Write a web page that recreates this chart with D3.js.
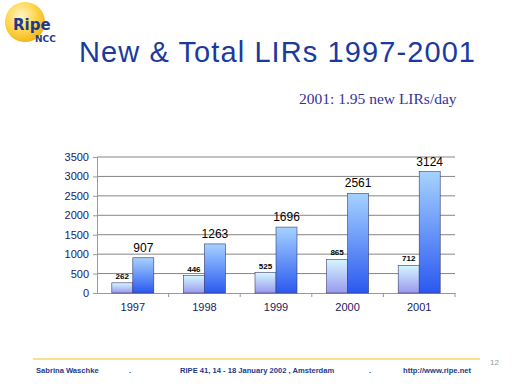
<!DOCTYPE html>
<html>
<head>
<meta charset="utf-8">
<script src="https://cdn.jsdelivr.net/npm/d3@7"></script>
<style>
  body { margin: 0; background: #fff; }
  svg { display: block; }
</style>
</head>
<body>
<div id="chart"></div>
<script>
const years = ["1997", "1998", "1999", "2000", "2001"];
const new_lirs = [262, 446, 525, 865, 712];
const total_lirs = [907, 1263, 1696, 2561, 3124];
const y_ticks = [0, 500, 1000, 1500, 2000, 2500, 3000, 3500];

const width = 512, height = 384;
const plot = { left: 97, right: 455, top: 157, bottom: 293 };

const svg = d3.select('#chart')
  .append('svg')
    .attr('width', width)
    .attr('height', height);

const defs = svg.append('defs');
const grad = (id, top, bottom) => {
  const g = defs.append('linearGradient')
    .attr('id', id)
    .attr('x1', 0).attr('y1', 0).attr('x2', 0).attr('y2', 1);
  g.append('stop').attr('offset', '0%').attr('stop-color', top);
  g.append('stop').attr('offset', '100%').attr('stop-color', bottom);
};
grad('g-new', '#d4f6ff', '#9a98ee');
grad('g-total', '#a6d2ff', '#2a58f0');
const logo = defs.append('radialGradient')
  .attr('id', 'g-logo').attr('cx', '40%').attr('cy', '35%').attr('r', '65%');
logo.append('stop').attr('offset', '0%').attr('stop-color', '#fff6c8');
logo.append('stop').attr('offset', '60%').attr('stop-color', '#ffd54a');
logo.append('stop').attr('offset', '100%').attr('stop-color', '#f0b820');

// Logo
svg.append('circle')
  .attr('cx', 25).attr('cy', 22).attr('r', 20)
  .attr('fill', 'url(#g-logo)');
svg.append('text')
  .attr('x', 13).attr('y', 30)
  .attr('font-family', 'Verdana, DejaVu Sans, sans-serif')
  .attr('font-weight', 'bold')
  .attr('font-size', 15)
  .attr('fill', '#1d3a8c')
  .text('Ripe');
svg.append('text')
  .attr('x', 35).attr('y', 42)
  .attr('font-family', 'Verdana, DejaVu Sans, sans-serif')
  .attr('font-weight', 'bold')
  .attr('font-size', 9)
  .attr('fill', '#1d3a8c')
  .text('NCC');

// Title
svg.append('text')
  .attr('x', 79).attr('y', 62)
  .attr('font-family', 'Liberation Sans, Arial, sans-serif')
  .attr('font-size', 29)
  .attr('fill', '#1a3a9e')
  .attr('textLength', 396)
  .text('New & Total LIRs 1997-2001');

svg.append('text')
  .attr('x', 299).attr('y', 104)
  .attr('font-family', 'Liberation Serif, Times New Roman, serif')
  .attr('font-size', 15.5)
  .attr('fill', '#33339a')
  .text('2001: 1.95 new LIRs/day');

// Scales
const x = d3.scaleBand()
  .domain(years)
  .range([plot.left, plot.right]);
const y = d3.scaleLinear()
  .domain([0, 3500])
  .range([plot.bottom, plot.top]);
const bar_w = 21;

// Gridlines
svg.append('g')
  .selectAll('line')
  .data(y_ticks.filter(d => d > 0))
  .join('line')
    .attr('x1', plot.left).attr('x2', plot.right)
    .attr('y1', d => y(d)).attr('y2', d => y(d))
    .attr('stroke', '#666')
    .attr('stroke-width', 0.8);

// Y axis
const y_axis = svg.append('g')
  .attr('transform', `translate(${plot.left},0)`)
  .call(d3.axisLeft(y).tickValues(y_ticks).tickFormat(d3.format('d')).tickSize(4).tickPadding(4));
y_axis.select('.domain').attr('stroke', '#999');
y_axis.selectAll('.tick line').attr('stroke', '#999');
y_axis.selectAll('text')
  .attr('font-family', 'Liberation Sans, Arial, sans-serif')
  .attr('font-size', 11)
  .attr('fill', '#1a1a66');

// X axis
const x_axis = svg.append('g')
  .attr('transform', `translate(0,${plot.bottom})`)
  .call(d3.axisBottom(x).tickSize(0).tickPadding(10));
x_axis.select('.domain').attr('stroke', '#999');
x_axis.selectAll('text')
  .attr('font-family', 'Liberation Sans, Arial, sans-serif')
  .attr('font-size', 11)
  .attr('fill', '#1a1a66');
svg.append('g')
  .selectAll('line')
  .data(years.map(d => x(d) + x.bandwidth()))
  .join('line')
    .attr('x1', d => d).attr('x2', d => d)
    .attr('y1', plot.bottom).attr('y2', plot.bottom + 4)
    .attr('stroke', '#999');

// Bars
const rows = years.map((yr, i) => ({ year: yr, n: new_lirs[i], t: total_lirs[i] }));
const cx = d => x(d.year) + x.bandwidth() / 2;

svg.append('g')
  .selectAll('rect')
  .data(rows)
  .join('rect')
    .attr('x', d => cx(d) - bar_w)
    .attr('y', d => y(d.n))
    .attr('width', bar_w)
    .attr('height', d => y(0) - y(d.n))
    .attr('fill', 'url(#g-new)')
    .attr('stroke', '#3a3a6a')
    .attr('stroke-width', 0.6);

svg.append('g')
  .selectAll('rect')
  .data(rows)
  .join('rect')
    .attr('x', d => cx(d))
    .attr('y', d => y(d.t))
    .attr('width', bar_w)
    .attr('height', d => y(0) - y(d.t))
    .attr('fill', 'url(#g-total)')
    .attr('stroke', '#3a3a6a')
    .attr('stroke-width', 0.6);

// Labels
svg.append('g')
  .selectAll('text')
  .data(rows)
  .join('text')
    .attr('x', d => cx(d) - bar_w / 2)
    .attr('y', d => y(d.n) - 4)
    .attr('text-anchor', 'middle')
    .attr('font-family', 'Liberation Sans, Arial, sans-serif')
    .attr('font-weight', 'bold')
    .attr('font-size', 8)
    .attr('fill', '#000')
    .text(d => d.n);

svg.append('g')
  .selectAll('text')
  .data(rows)
  .join('text')
    .attr('x', d => cx(d) + bar_w / 2)
    .attr('y', d => y(d.t) - 6)
    .attr('text-anchor', 'middle')
    .attr('font-family', 'Liberation Sans, Arial, sans-serif')
    .attr('font-size', 12)
    .attr('fill', '#000')
    .text(d => d.t);

// Footer
svg.append('line')
  .attr('x1', 33).attr('x2', 480)
  .attr('y1', 359).attr('y2', 359)
  .attr('stroke', '#f2c418')
  .attr('stroke-width', 1);
svg.append('text')
  .attr('x', 490).attr('y', 365)
  .attr('font-family', 'Liberation Sans, Arial, sans-serif')
  .attr('font-size', 8)
  .attr('fill', '#999')
  .text('12');

const footer = [
  { x: 36, text: 'Sabrina Waschke' },
  { x: 129, text: '.' },
  { x: 180, text: 'RIPE 41, 14 - 18 January 2002 , Amsterdam' },
  { x: 369, text: '.' },
  { x: 403, text: 'http://www.ripe.net' }
];
svg.append('g')
  .selectAll('text')
  .data(footer)
  .join('text')
    .attr('x', d => d.x)
    .attr('y', 373)
    .attr('font-family', 'Liberation Sans, Arial, sans-serif')
    .attr('font-weight', 'bold')
    .attr('font-size', 7.6)
    .attr('fill', '#1d3a8c')
    .text(d => d.text);
</script>
</body>
</html>
